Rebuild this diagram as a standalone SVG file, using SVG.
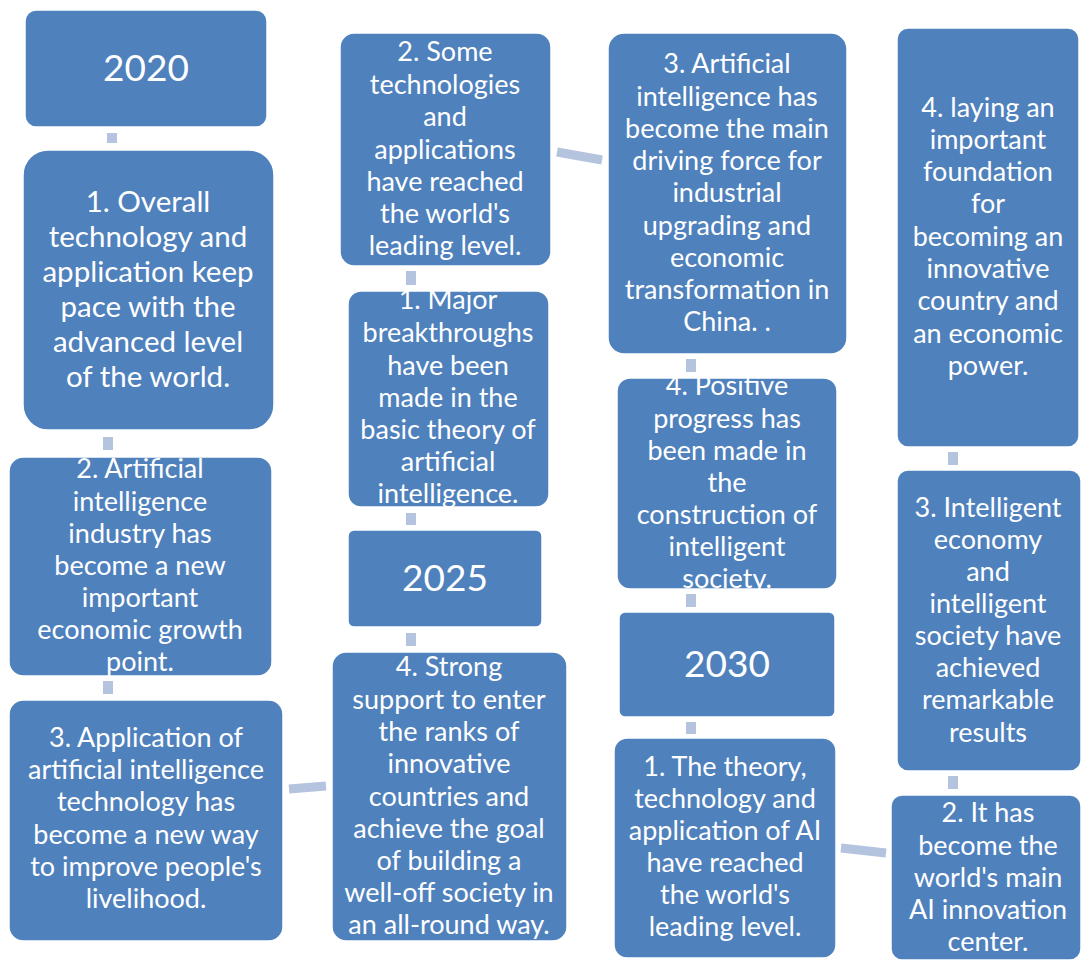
<svg xmlns="http://www.w3.org/2000/svg" width="1081" height="968" viewBox="0 0 1081 968">
<style>
.b{fill:#4F81BD;stroke:#FFFFFF;stroke-width:1.5}
.t{font-family:Lato,"Liberation Sans",sans-serif;font-size:27px;fill:#FFFFFF;text-anchor:middle}
.big{font-size:29.5px}
.yr{font-size:37px}
.c{fill:#B4C3DE}
.cl{stroke:#B4C3DE;stroke-width:9;fill:none}
</style>
<rect width="1081" height="968" fill="#FFFFFF"/>
<g id="connectors">
<rect class="c" x="107" y="133" width="10" height="10"/>
<rect class="c" x="103" y="437" width="10" height="13"/>
<rect class="c" x="103" y="681" width="10" height="13"/>
<line class="cl" x1="289" y1="789" x2="326" y2="786"/>
<rect class="c" x="406" y="633" width="10" height="13"/>
<rect class="c" x="406" y="513" width="10" height="12"/>
<rect class="c" x="406" y="271" width="10" height="14"/>
<line class="cl" x1="557" y1="152" x2="602" y2="160"/>
<rect class="c" x="686" y="359" width="10" height="13"/>
<rect class="c" x="686" y="594" width="10" height="13"/>
<rect class="c" x="686" y="722" width="10" height="12"/>
<line class="cl" x1="841" y1="848" x2="886" y2="853"/>
<rect class="c" x="948" y="776" width="10" height="13"/>
<rect class="c" x="948" y="452" width="10" height="13"/>
</g>
<g id="n2020">
<rect class="b" x="25" y="10" width="242" height="117" rx="11"/>
<text class="t yr" x="146" y="81">2020</text>
</g>
<g id="n2020-1">
<rect class="b" x="23" y="150" width="251" height="280" rx="25"/>
<text class="t big" x="148" y="212">1. Overall</text>
<text class="t big" x="148" y="247">technology and</text>
<text class="t big" x="148" y="282">application keep</text>
<text class="t big" x="148" y="317">pace with the</text>
<text class="t big" x="148" y="352">advanced level</text>
<text class="t big" x="148" y="387">of the world.</text>
</g>
<g id="n2020-2">
<rect class="b" x="9" y="457" width="263" height="219" rx="14"/>
<text class="t" x="140" y="478">2. Artificial</text>
<text class="t" x="140" y="511">intelligence</text>
<text class="t" x="140" y="543">industry has</text>
<text class="t" x="140" y="575">become a new</text>
<text class="t" x="140" y="607">important</text>
<text class="t" x="140" y="639">economic growth</text>
<text class="t" x="140" y="671">point.</text>
</g>
<g id="n2020-3">
<rect class="b" x="9" y="700" width="274" height="241" rx="14"/>
<text class="t" x="146" y="747">3. Application of</text>
<text class="t" x="146" y="779">artificial intelligence</text>
<text class="t" x="146" y="811">technology has</text>
<text class="t" x="146" y="844">become a new way</text>
<text class="t" x="146" y="876">to improve people's</text>
<text class="t" x="146" y="908">livelihood.</text>
</g>
<g id="n2020-4">
<rect class="b" x="332" y="652" width="235" height="289" rx="14"/>
<text class="t" x="449" y="676">4. Strong</text>
<text class="t" x="449" y="709">support to enter</text>
<text class="t" x="449" y="741">the ranks of</text>
<text class="t" x="449" y="773">innovative</text>
<text class="t" x="449" y="806">countries and</text>
<text class="t" x="449" y="838">achieve the goal</text>
<text class="t" x="449" y="870">of building a</text>
<text class="t" x="449" y="902">well-off society in</text>
<text class="t" x="449" y="934">an all-round way.</text>
</g>
<g id="n2025">
<rect class="b" x="348" y="530" width="194" height="97" rx="6"/>
<text class="t yr" x="445" y="591">2025</text>
</g>
<g id="n2025-1">
<rect class="b" x="348" y="291" width="201" height="216" rx="13"/>
<text class="t" x="448" y="309">1. Major</text>
<text class="t" x="448" y="342">breakthroughs</text>
<text class="t" x="448" y="375">have been</text>
<text class="t" x="448" y="407">made in the</text>
<text class="t" x="448" y="439">basic theory of</text>
<text class="t" x="448" y="471">artificial</text>
<text class="t" x="448" y="503">intelligence.</text>
</g>
<g id="n2025-2">
<rect class="b" x="340" y="33" width="211" height="233" rx="14"/>
<text class="t" x="445" y="61">2. Some</text>
<text class="t" x="445" y="94">technologies</text>
<text class="t" x="445" y="126">and</text>
<text class="t" x="445" y="159">applications</text>
<text class="t" x="445" y="191">have reached</text>
<text class="t" x="445" y="223">the world's</text>
<text class="t" x="445" y="255">leading level.</text>
</g>
<g id="n2025-3">
<rect class="b" x="608" y="33" width="239" height="321" rx="16"/>
<text class="t" x="727" y="73">3. Artificial</text>
<text class="t" x="727" y="106">intelligence has</text>
<text class="t" x="727" y="138">become the main</text>
<text class="t" x="727" y="170">driving force for</text>
<text class="t" x="727" y="202">industrial</text>
<text class="t" x="727" y="235">upgrading and</text>
<text class="t" x="727" y="267">economic</text>
<text class="t" x="727" y="299">transformation in</text>
<text class="t" x="727" y="331">China. .</text>
</g>
<g id="n2025-4">
<rect class="b" x="617" y="378" width="220" height="211" rx="13"/>
<text class="t" x="727" y="395">4. Positive</text>
<text class="t" x="727" y="428">progress has</text>
<text class="t" x="727" y="460">been made in</text>
<text class="t" x="727" y="492">the</text>
<text class="t" x="727" y="524">construction of</text>
<text class="t" x="727" y="556">intelligent</text>
<text class="t" x="727" y="588">society.</text>
</g>
<g id="n2030">
<rect class="b" x="619" y="612" width="216" height="105" rx="6"/>
<text class="t yr" x="727" y="677">2030</text>
</g>
<g id="n2030-1">
<rect class="b" x="614" y="738" width="222" height="220" rx="13"/>
<text class="t" x="725" y="776">1. The theory,</text>
<text class="t" x="725" y="808">technology and</text>
<text class="t" x="725" y="840">application of AI</text>
<text class="t" x="725" y="872">have reached</text>
<text class="t" x="725" y="904">the world's</text>
<text class="t" x="725" y="936">leading level.</text>
</g>
<g id="n2030-2">
<rect class="b" x="891" y="795" width="190" height="165" rx="11"/>
<text class="t" x="988" y="822">2. It has</text>
<text class="t" x="988" y="855">become the</text>
<text class="t" x="988" y="887">world's main</text>
<text class="t" x="988" y="919">AI innovation</text>
<text class="t" x="988" y="951">center.</text>
</g>
<g id="n2030-3">
<rect class="b" x="897" y="470" width="184" height="301" rx="11"/>
<text class="t" x="988" y="517">3. Intelligent</text>
<text class="t" x="988" y="549">economy</text>
<text class="t" x="988" y="581">and</text>
<text class="t" x="988" y="613">intelligent</text>
<text class="t" x="988" y="645">society have</text>
<text class="t" x="988" y="677">achieved</text>
<text class="t" x="988" y="709">remarkable</text>
<text class="t" x="988" y="742">results</text>
</g>
<g id="n2030-4">
<rect class="b" x="897" y="28" width="182" height="419" rx="11"/>
<text class="t" x="988" y="117">4. laying an</text>
<text class="t" x="988" y="149">important</text>
<text class="t" x="988" y="181">foundation</text>
<text class="t" x="988" y="213">for</text>
<text class="t" x="988" y="246">becoming an</text>
<text class="t" x="988" y="278">innovative</text>
<text class="t" x="988" y="310">country and</text>
<text class="t" x="988" y="343">an economic</text>
<text class="t" x="988" y="375">power.</text>
</g>
</svg>
